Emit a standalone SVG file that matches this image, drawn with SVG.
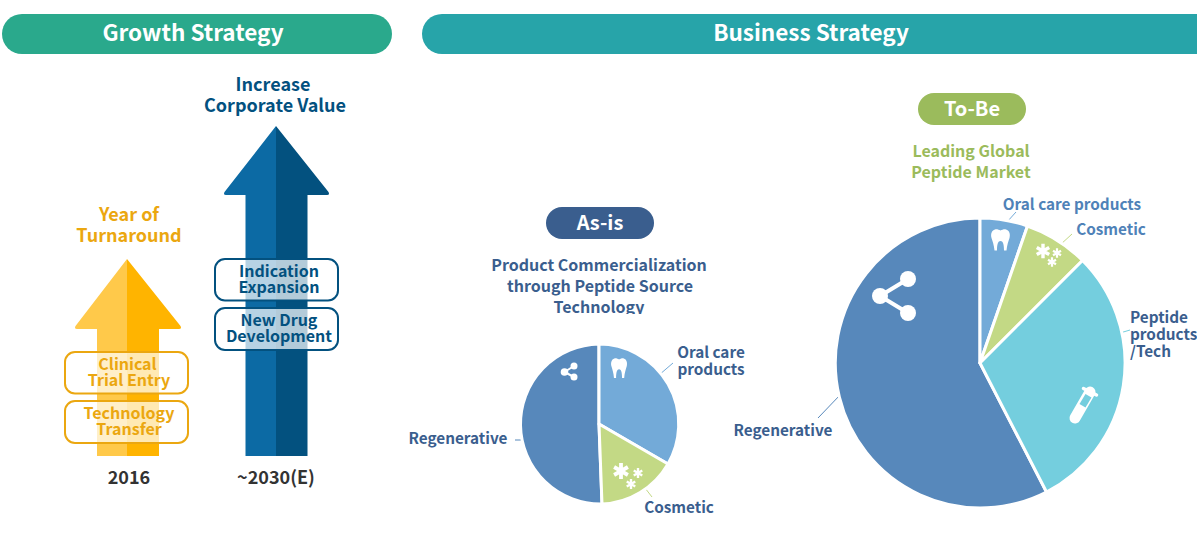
<svg xmlns="http://www.w3.org/2000/svg" width="1197" height="559" viewBox="0 0 1197 559">
<style>
text{font-family:"Noto Sans CJK KR","Noto Sans",sans-serif;font-weight:700;text-anchor:middle}
.h{font-size:22.500px;fill:#fff}
.o{fill:#eba710}.b{fill:#03517f}.n{fill:#3a5e8e}.m{fill:#4f82b8}.d{fill:#333}.g{fill:#9bbb5c}
.t18{font-size:18px}.t16{font-size:16px}.t15{font-size:15.300px}
.box{fill:#fff;fill-opacity:.7;stroke-width:2}
.sl{stroke:#fff;stroke-width:3;stroke-linejoin:round}
.ic{fill:#fff}
.ld{fill:none;stroke-width:1}
.a{fill:none;stroke:#fff}
</style>
<defs>
<path id="tooth" d="M4 .5C6 0 8 1 9.500 1.500 11 1 13 0 15 .5 18.500 1.500 19.500 5 18.500 9 17.500 12 16 16 15.500 21.500H13C13 17 12.500 12 9.500 12 6.500 12 6 17 6 21.500H3.500C3 16 1.500 12 .5 9-.5 5 .5 1.500 4 .5Z" fill="#fff"/>
<g id="star"><path class="a" stroke-width="3.800" d="M0-8V8M-6.900-4L6.900 4M-6.900 4L6.900-4"/></g>
<clipPath id="clipTitle"><rect x="480" y="250" width="240" height="64"/></clipPath>
</defs>
<rect width="1197" height="559" fill="#fff"/>
<g id="header-growth"><rect x="2" y="14" width="390" height="40" rx="20" fill="#2aa98c"/><text class="h" x="193" y="41">Growth Strategy</text></g>
<g id="header-business"><rect x="422" y="14" width="800" height="40" rx="20" fill="#27a4a9"/><text class="h" x="811" y="41">Business Strategy</text></g>

<g id="arrow-turnaround">
<path d="M127 259L75.500 326Q74 329 77 329H97V456H127Z" fill="#ffc94a"/>
<path d="M127 259L180.500 326Q182 329 179 329H159V456H127Z" fill="#ffb400"/>
<text class="o t18"><tspan x="129" y="221">Year of</tspan><tspan x="129" y="242">Turnaround</tspan></text>
</g>
<g id="arrow-value">
<path d="M276 126L224.500 192Q223 195 226 195H245.500V456H276Z" fill="#0c6aa4"/>
<path d="M276 126L328.500 192Q330 195 327 195H307.500V456H276Z" fill="#03517f"/>
<text class="b t18"><tspan x="273" y="91">Increase</tspan><tspan x="275" y="112">Corporate Value</tspan></text>
</g>
<g id="box-clinical"><rect class="box" x="65" y="352" width="123" height="41.500" rx="10" stroke="#eba710"/><text class="o t16"><tspan x="127.500" y="370">Clinical</tspan><tspan x="129" y="386">Trial Entry</tspan></text></g>
<g id="box-tech"><rect class="box" x="65" y="401" width="123" height="42" rx="10" stroke="#eba710"/><text class="o t16"><tspan x="129" y="419">Technology</tspan><tspan x="129" y="435">Transfer</tspan></text></g>
<g id="box-indication"><rect class="box" x="215" y="259" width="123" height="41.500" rx="10" stroke="#03517f"/><text class="b t16"><tspan x="279" y="277">Indication</tspan><tspan x="279" y="293">Expansion</tspan></text></g>
<g id="box-newdrug"><rect class="box" x="215" y="308" width="123" height="42" rx="10" stroke="#03517f"/><text class="b t16"><tspan x="279" y="326">New Drug</tspan><tspan x="279" y="342">Development</tspan></text></g>
<g id="year-2016"><text class="d t18" x="129" y="484">2016</text></g>
<g id="year-2030"><text class="d t18" x="276" y="484">~2030(E)</text></g>

<g id="connectors">
<path class="ld" stroke="#73aad8" d="M659 375L673 363"/>
<path class="ld" stroke="#c3d985" d="M645 488L652 497"/>
<path class="ld" stroke="#5788bb" d="M515 440H522"/>
<path class="ld" stroke="#73aad8" d="M1007 222L1016 212"/>
<path class="ld" stroke="#c3d985" d="M1060 245L1072 234"/>
<path class="ld" stroke="#74cede" d="M1120 333L1130 330"/>
<path class="ld" stroke="#5788bb" d="M818 418L841 394"/>
</g>

<g id="as-is">
<rect x="546" y="207" width="108" height="32" rx="16" fill="#3a5e8e"/><text x="600" y="230" font-size="20" fill="#fff">As-is</text>
<text class="n t16" clip-path="url(#clipTitle)"><tspan x="599" y="271">Product Commercialization</tspan><tspan x="600" y="292">through Peptide Source</tspan><tspan x="599" y="313">Technology</tspan></text>
<path class="sl" fill="#5788bb" d="M599 424L602 504A80 80 0 1 1 599 344Z"/>
<path class="sl" fill="#73aad8" d="M599 424V344A80 80 0 0 1 668 464Z"/>
<path class="sl" fill="#c3d985" d="M599 424L668 464A80 80 0 0 1 602 504Z"/>
<g class="ic"><circle cx="574" cy="366" r="3.500"/><circle cx="574" cy="377" r="3.500"/><circle cx="564.500" cy="372" r="3.800"/><path d="M564.500 372L574 366M564.500 372L574 377" stroke="#fff" stroke-width="2"/></g>
<use href="#tooth" transform="translate(611 358) scale(.85 .93)"/>
<use href="#star" transform="translate(621 471)"/>
<use href="#star" transform="translate(638 473) scale(.62)"/>
<use href="#star" transform="translate(631 484) scale(.62)"/>
<text class="n t15" x="458" y="444">Regenerative</text>
<text class="n t15"><tspan x="711" y="358">Oral care</tspan><tspan x="711" y="375">products</tspan></text>
<text class="n t15" x="679" y="513">Cosmetic</text>
</g>

<g id="to-be">
<rect x="918" y="93" width="108" height="32" rx="16" fill="#9bbb5c"/><text x="972" y="116" font-size="20" fill="#fff">To-Be</text>
<text class="g t16"><tspan x="971" y="157">Leading Global</tspan><tspan x="971" y="178">Peptide Market</tspan></text>
<path class="sl" fill="#5788bb" d="M980 363L1046.500 492A145 145 0 1 1 980 218Z"/>
<path class="sl" fill="#73aad8" d="M980 363V218A145 145 0 0 1 1027.500 226Z"/>
<path class="sl" fill="#c3d985" d="M980 363L1027.500 226A145 145 0 0 1 1082.500 260.500Z"/>
<path class="sl" fill="#74cede" d="M980 363L1082.500 260.500A145 145 0 0 1 1046.500 492Z"/>
<g class="ic"><circle cx="908" cy="279" r="8"/><circle cx="908" cy="313" r="8"/><circle cx="880" cy="296" r="8"/><path d="M880 296L908 279M880 296L908 313" stroke="#fff" stroke-width="4"/></g>
<use href="#tooth" transform="translate(991 229)"/>
<use href="#star" transform="translate(1043 251) scale(.9)"/>
<use href="#star" transform="translate(1057 253) scale(.58)"/>
<use href="#star" transform="translate(1052 262) scale(.58)"/>
<path d="M1090 392L1075 418" stroke="#fff" stroke-width="11" stroke-linecap="round"/>
<path d="M1083.500 388.500L1096.500 395" stroke="#fff" stroke-width="3.500" stroke-linecap="round"/>
<path d="M1085.500 394L1091.500 397.500L1085.500 407.500L1079.500 404Z" fill="#74cede"/>
<text class="m t15" x="1072" y="210">Oral care products</text>
<text class="m t15" x="1111" y="235">Cosmetic</text>
<text class="n t15" style="text-anchor:start"><tspan x="1130" y="323">Peptide</tspan><tspan x="1130" y="340">products</tspan><tspan x="1130" y="357">/Tech</tspan></text>
<text class="n t15" x="783" y="436">Regenerative</text>
</g>
</svg>
